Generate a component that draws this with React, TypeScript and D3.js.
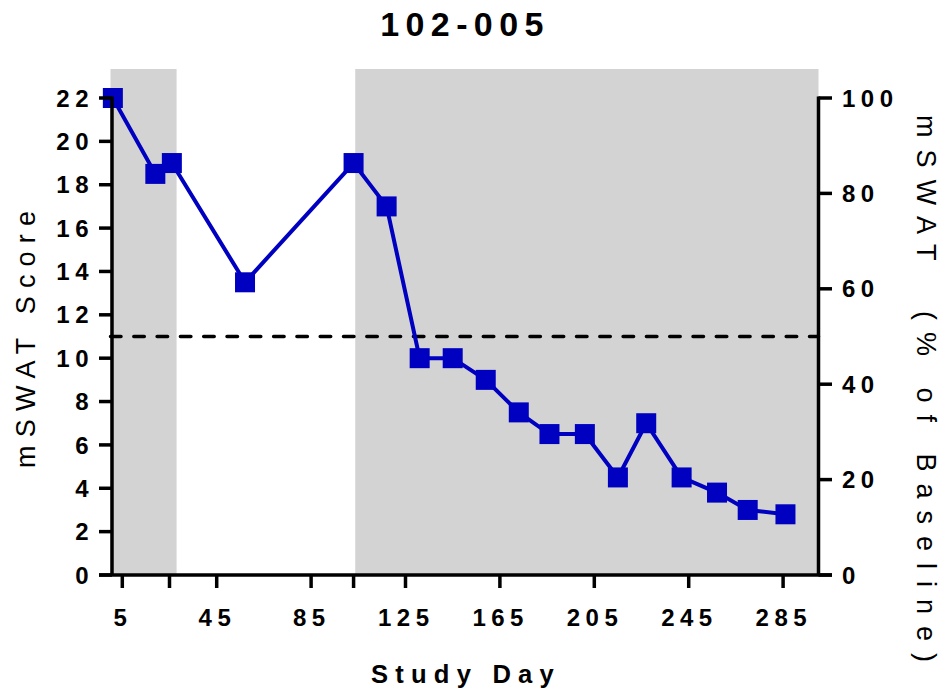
import React from "react";
import * as d3 from "d3";

// Patient 102-005: mSWAT score by study day
const days = [1, 19, 26, 57, 103, 117, 131, 145, 159, 173, 186, 201, 215, 227, 242, 257, 270, 286];
const scores = [22, 18.5, 19, 13.5, 19, 17, 10, 10, 9, 7.5, 6.5, 6.5, 4.5, 7, 4.5, 3.8, 3, 2.8];

const xTickValues = [5, 45, 85, 125, 165, 205, 245, 285];
const xMarkerTicks = [25, 103];
const yLeftTicks = [0, 2, 4, 6, 8, 10, 12, 14, 16, 18, 20, 22];
const yRightTicks = [0, 20, 40, 60, 80, 100];

// shaded treatment periods (study days)
const bandStarts = [0, 103.7];
const bandEnds = [28, 300];

const threshold = 11; // 50% of baseline

const title = "102-005";
const xTitle = "Study Day";
const yLeftTitle = "mSWAT Score";
const yRightTitle = "mSWAT  (% of Baseline)";

const W = 943;
const H = 692;
const FONT = "'Liberation Sans', Arial, Helvetica, sans-serif";
const BLUE = "#0000C0";

export default function App() {
  const x = d3.scaleLinear().domain([0, 300]).range([110.5, 818.5]);
  const y = d3.scaleLinear().domain([0, 22]).range([575, 98]);
  const yR = d3.scaleLinear().domain([0, 100]).range([575, 98]);
  const plotTop = 69;

  const line = d3
    .line<number>()
    .x((_, i) => x(days[i]))
    .y((d) => y(d));

  const marker = 20;
  const tickFs = 24;
  const tickLs = 5.5;

  return (
    <svg
      width={W}
      height={H}
      style={{ position: "absolute", left: 0, top: 0, background: "#fff" }}
      fontFamily={FONT}
    >
      {/* shaded periods */}
      {bandStarts.map((s, i) => (
        <rect
          key={"band" + i}
          x={x(s)}
          y={plotTop}
          width={x(bandEnds[i]) - x(s)}
          height={y(0) - plotTop}
          fill="#D3D3D3"
        />
      ))}

      {/* 50% threshold */}
      <line
        x1={x(0)}
        x2={x(300)}
        y1={y(threshold)}
        y2={y(threshold)}
        stroke="#000"
        strokeWidth={3.5}
        strokeDasharray="10.5 12.8"
        strokeLinecap="round"
      />

      {/* data */}
      <path d={line(scores) || ""} fill="none" stroke={BLUE} strokeWidth={4} />
      {scores.map((s, i) => (
        <rect
          key={"m" + i}
          x={x(days[i]) - marker / 2}
          y={y(s) - marker / 2}
          width={marker}
          height={marker}
          fill={BLUE}
        />
      ))}

      {/* x axis */}
      <line x1={99} x2={832} y1={y(0)} y2={y(0)} stroke="#000" strokeWidth={3.5} />
      {[...xTickValues, ...xMarkerTicks].map((t) => (
        <line key={"xt" + t} x1={x(t)} x2={x(t)} y1={y(0)} y2={y(0) + 13} stroke="#000" strokeWidth={3.5} />
      ))}
      {xTickValues.map((t) => (
        <text
          key={"xl" + t}
          x={x(t) + tickLs / 2 - 2}
          y={626}
          textAnchor="middle"
          fontSize={tickFs}
          fontWeight="bold"
          letterSpacing={tickLs}
        >
          {t}
        </text>
      ))}
      <text x={466} y={683} textAnchor="middle" fontSize={25.6} fontWeight="bold" letterSpacing={7.2}>
        {xTitle}
      </text>

      {/* left axis */}
      <line x1={x(0) + 1.5} x2={x(0) + 1.5} y1={y(22) - 1.5} y2={y(0)} stroke="#000" strokeWidth={3.5} />
      {yLeftTicks.map((t) => (
        <g key={"yl" + t}>
          <line x1={99} x2={x(0) + 1.5} y1={y(t)} y2={y(t)} stroke="#000" strokeWidth={3.5} />
          <text
            x={88.5 + tickLs}
            y={y(t) + 8.6}
            textAnchor="end"
            fontSize={tickFs}
            fontWeight="bold"
            letterSpacing={tickLs}
          >
            {t}
          </text>
        </g>
      ))}
      <text transform="translate(35, 468) rotate(-90)" fontSize={27} letterSpacing={8.2}>
        {yLeftTitle}
      </text>

      {/* right axis */}
      <line x1={x(300)} x2={x(300)} y1={yR(100) - 1.5} y2={yR(0)} stroke="#000" strokeWidth={3.5} />
      {yRightTicks.map((t) => (
        <g key={"yr" + t}>
          <line x1={x(300)} x2={832} y1={yR(t)} y2={yR(t)} stroke="#000" strokeWidth={3.5} />
          <text x={842} y={yR(t) + 8.6} fontSize={tickFs} fontWeight="bold" letterSpacing={tickLs}>
            {t}
          </text>
        </g>
      ))}
      <text
        transform="translate(917, 115) rotate(90)"
        fontSize={27}
        letterSpacing={12}
        style={{ whiteSpace: "pre" }}
      >
        {yRightTitle}
      </text>

      {/* title */}
      <text x={465} y={36} textAnchor="middle" fontSize={34} fontWeight="bold" letterSpacing={6.4}>
        {title}
      </text>
    </svg>
  );
}
